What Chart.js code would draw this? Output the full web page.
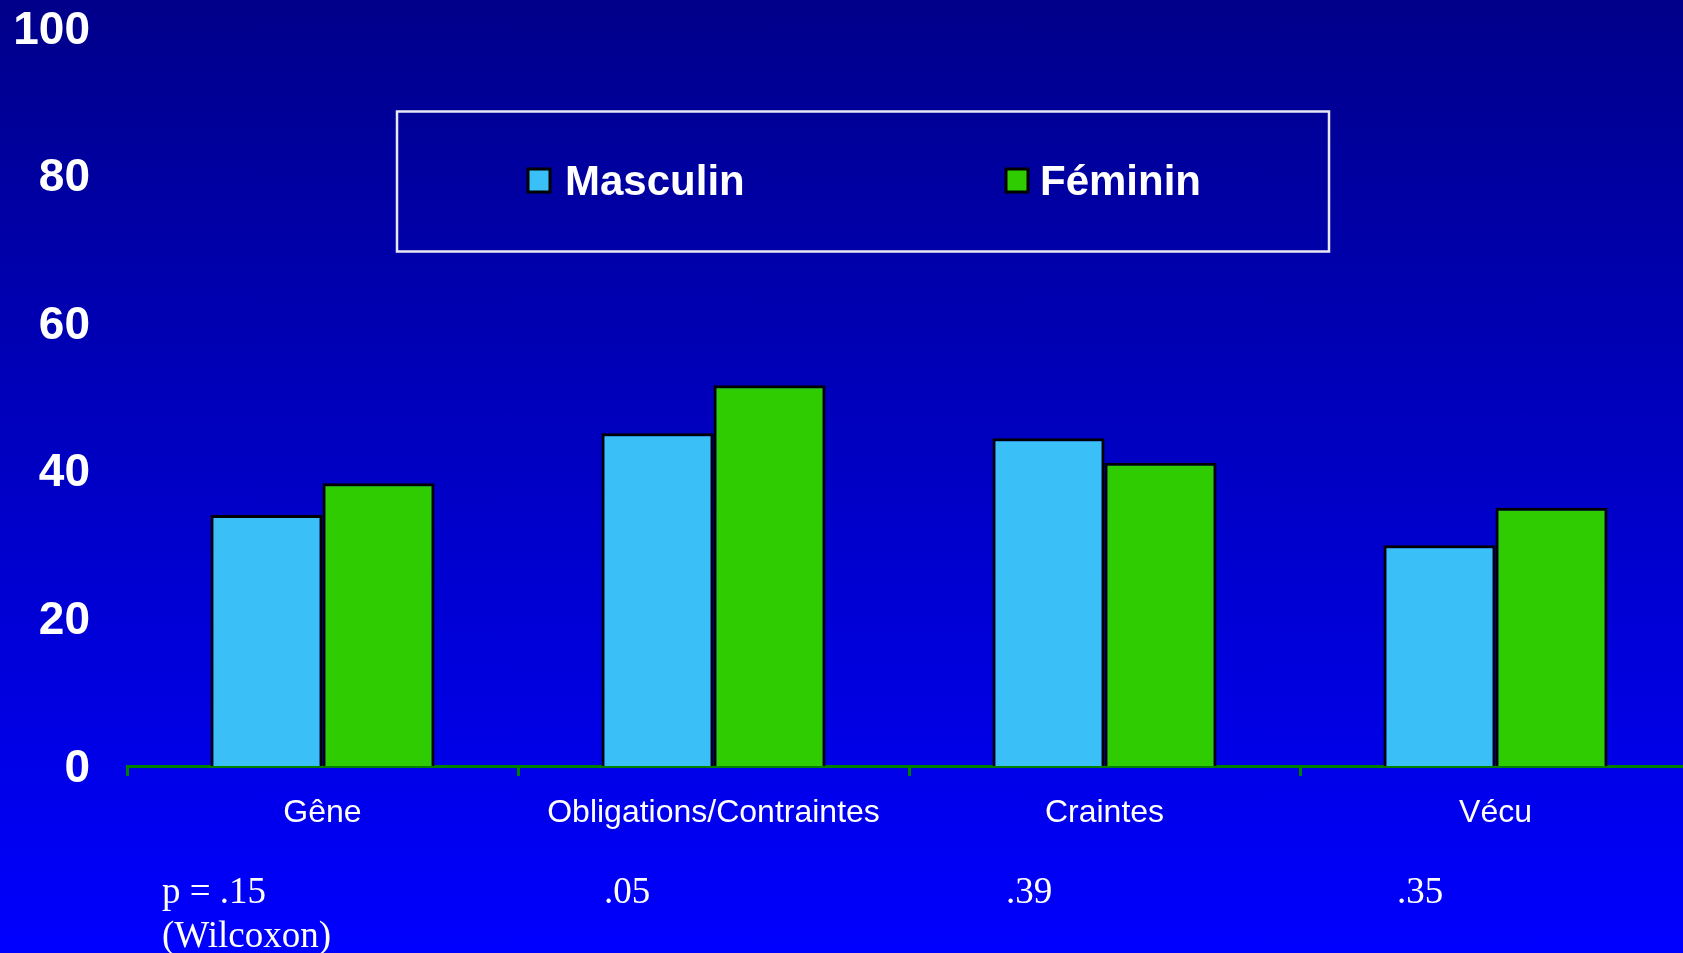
<!DOCTYPE html>
<html>
<head>
<meta charset="utf-8">
<script src="https://cdn.jsdelivr.net/npm/chart.js@4.4.0/dist/chart.umd.min.js"></script>
<style>
  html, body { margin:0; padding:0; width:1683px; height:953px; overflow:hidden;
    background: linear-gradient(to bottom, #00008a 0%, #0000ff 100%); }
  #wrap { position:absolute; left:0; top:0; width:1700px; height:953px; }
  canvas { display:block; }
</style>
</head>
<body>
<div id="wrap"><canvas id="c" width="1700" height="953"></canvas></div>
<script>
// ---- data ----
const categories = ['Gêne', 'Obligations/Contraintes', 'Craintes', 'Vécu'];
const masculin = [34.0, 45.1, 44.4, 29.9];
const feminin  = [38.3, 51.6, 41.1, 35.0];
const seriesNames = ['Masculin', 'Féminin'];
const pValues = ['p = .15', '.05', '.39', '.35'];
const testNote = '(Wilcoxon)';
const yMin = 0, yMax = 100, yStep = 20;

// ---- styles ----
const colMasc = '#3bbff7';
const colFem = '#2ecc00';
const pLabelX = [162, 604, 1006, 1397];

const overlayPlugin = {
  id: 'overlay',
  afterDraw(chart) {
    const ctx = chart.ctx;
    ctx.save();
    // legend box
    ctx.strokeStyle = '#e8e8f4';
    ctx.lineWidth = 2.5;
    ctx.strokeRect(397, 111.5, 932, 140);
    const items = [
      {x: 528, tx: 565, name: chart.data.datasets[0].label, col: chart.data.datasets[0].backgroundColor},
      {x: 1006, tx: 1040, name: chart.data.datasets[1].label, col: chart.data.datasets[1].backgroundColor}
    ];
    items.forEach(it => {
      ctx.fillStyle = it.col;
      ctx.fillRect(it.x, 169, 22, 23);
      ctx.strokeStyle = '#000';
      ctx.lineWidth = 3;
      ctx.strokeRect(it.x, 169, 22, 23);
      ctx.fillStyle = '#ffffff';
      ctx.font = 'bold 42px "Liberation Sans", Arial, sans-serif';
      ctx.textBaseline = 'alphabetic';
      ctx.textAlign = 'left';
      ctx.fillText(it.name, it.tx, 195);
    });
    // p-values
    ctx.font = '37px "Liberation Serif", "Times New Roman", serif';
    ctx.fillStyle = '#ffffff';
    pValues.forEach((p, i) => ctx.fillText(p, pLabelX[i], 903));
    ctx.fillText(testNote, pLabelX[0], 947);
    ctx.restore();
  }
};

new Chart(document.getElementById('c'), {
  type: 'bar',
  data: {
    labels: categories,
    datasets: [
      { label: seriesNames[0], data: masculin, backgroundColor: colMasc, borderColor: '#000', borderWidth: 3, borderSkipped: 'bottom' },
      { label: seriesNames[1], data: feminin, backgroundColor: colFem, borderColor: '#000', borderWidth: 3, borderSkipped: 'bottom' }
    ]
  },
  options: {
    responsive: false,
    animation: false,
    devicePixelRatio: 1,
    layout: { padding: { top: 28, right: 9, left: 0, bottom: 0 } },
    datasets: { bar: { categoryPercentage: 0.573, barPercentage: 1.0 } },
    plugins: { legend: { display: false }, tooltip: { enabled: false } },
    scales: {
      x: {
        offset: true,
        grid: { display: true, drawOnChartArea: false, drawTicks: true, tickLength: 10, color: '#008000', lineWidth: 3, offset: true },
        border: { display: true, color: '#008000', width: 3 },
        ticks: { color: '#ffffff', font: { family: '"Liberation Sans", Arial, sans-serif', size: 32 }, padding: 18, maxRotation: 0, autoSkip: false },
        afterFit(s) { s.height = 187; s.paddingLeft = 0; s.paddingRight = 0; }
      },
      y: {
        min: yMin, max: yMax,
        grid: { display: false, drawTicks: false },
        border: { display: false },
        ticks: { stepSize: yStep, color: '#ffffff', padding: 37, labelOffset: 3, font: { family: '"Liberation Sans", Arial, sans-serif', size: 46, weight: 'bold' } },
        afterFit(s) { s.width = 127; s.paddingTop = 0; s.paddingBottom = 0; }
      }
    }
  },
  plugins: [overlayPlugin]
});
</script>
</body>
</html>
